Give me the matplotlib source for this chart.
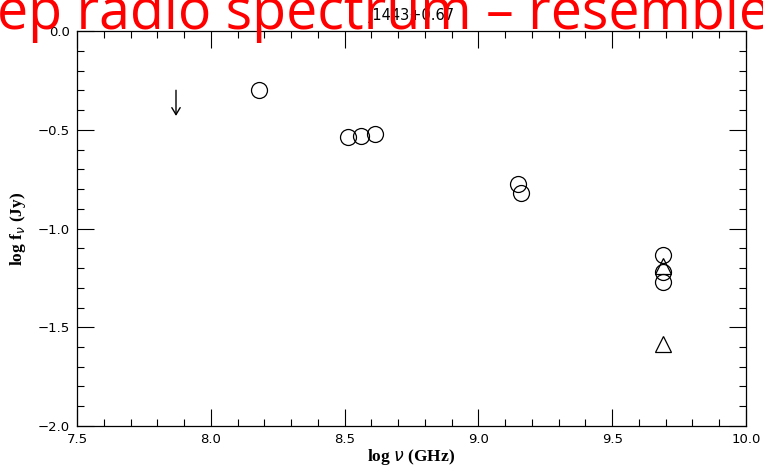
import matplotlib
matplotlib.use("Agg")
import matplotlib.pyplot as plt
from matplotlib.ticker import MultipleLocator

# Data
circ_x = [8.18, 8.514, 8.561, 8.614, 9.148, 9.159, 9.69, 9.69, 9.69]
circ_y = [-0.30, -0.535, -0.530, -0.522, -0.774, -0.820, -1.135, -1.22, -1.27]
tri_x = [9.69, 9.69]
tri_y = [-1.19, -1.585]
ul_x = [7.87]
ul_y = [-0.30]
ul_len = 0.13
title = "J1443+0.67"
overlay = "ep radio spectrum \u2013 resemble"

fig = plt.figure(figsize=(7.63, 4.67), dpi=100)
ax = fig.add_axes([0.1009, 0.0878, 0.8768, 0.8458])

ax.plot(circ_x, circ_y, linestyle='none', marker='o', markersize=11.5,
        markerfacecolor='none', markeredgecolor='black', markeredgewidth=0.9)
ax.plot(tri_x, tri_y, linestyle='none', marker='^', markersize=11.5,
        markerfacecolor='none', markeredgecolor='black', markeredgewidth=0.9)
for x, y in zip(ul_x, ul_y):
    ax.annotate('', xy=(x, y - ul_len), xytext=(x, y),
                arrowprops=dict(arrowstyle='->,head_length=0.5,head_width=0.3',
                                color='black', lw=1.0, shrinkA=0, shrinkB=0))

ax.set_xlim(7.5, 10.0)
ax.set_ylim(-2.0, 0.0)
ax.xaxis.set_major_locator(MultipleLocator(0.5))
ax.xaxis.set_minor_locator(MultipleLocator(0.1))
ax.yaxis.set_major_locator(MultipleLocator(0.5))
ax.yaxis.set_minor_locator(MultipleLocator(0.1))
ax.xaxis.set_major_formatter(plt.FuncFormatter(lambda v, p: f"{v:.1f}"))
ax.yaxis.set_major_formatter(plt.FuncFormatter(lambda v, p: f"{v:.1f}".replace('-', '\u2212')))
ax.tick_params(which='both', direction='in', top=True, right=True, width=0.8,
               labelsize=9.5, colors='black', pad=5)
ax.tick_params(which='major', length=12)
ax.tick_params(which='minor', length=5)
for s in ax.spines.values():
    s.set_linewidth(0.9)

ax.set_xlabel(r"log $\nu$ (GHz)", family='Liberation Serif', fontweight='bold',
              fontsize=12.5, labelpad=1)
ax.set_ylabel(r"log f$_\nu$ (Jy)", family='Liberation Serif', fontweight='bold',
              fontsize=12.5, labelpad=7)
ax.set_title(title, fontsize=10.5, pad=8)

fig.text(-0.004, 0.938, overlay, color='red', fontsize=40, family='Open Sans',
         ha='left', va='baseline')

fig.savefig("out.png", dpi=100)
